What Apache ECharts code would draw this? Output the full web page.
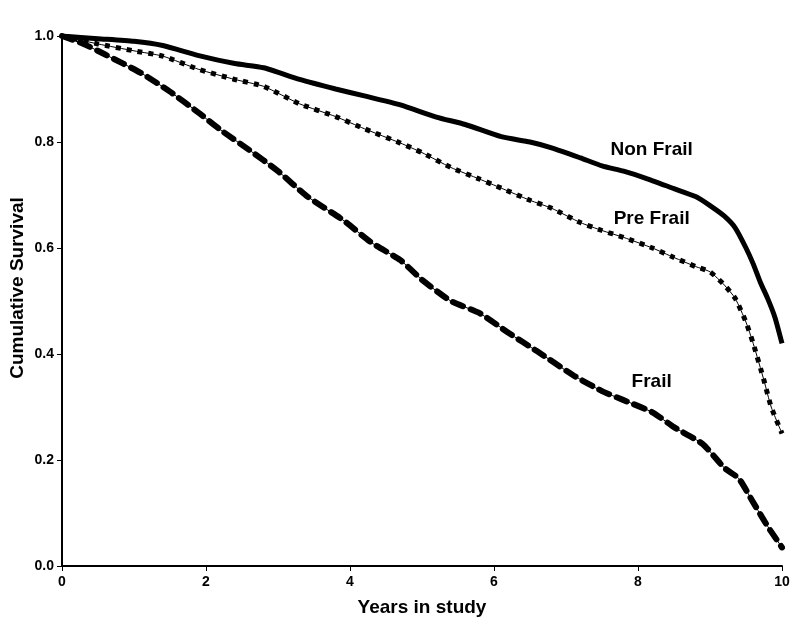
<!DOCTYPE html>
<html>
<head>
<meta charset="utf-8">
<script src="https://cdn.jsdelivr.net/npm/echarts@6/dist/echarts.min.js"></script>
<style>
html,body{margin:0;padding:0;background:#fff;}
#c{width:800px;height:630px;}
</style>
</head>
<body>
<div id="c"></div>
<script>
var nonFrailX = [0, 0.5, 1.0, 1.4, 1.9, 2.4, 2.8, 3.3, 3.8, 4.2, 4.7, 5.2, 5.6, 6.1, 6.5, 6.8, 7.2, 7.5, 7.8, 8.1, 8.5, 8.8, 9.0, 9.2, 9.35, 9.5, 9.6, 9.7, 9.8, 9.9, 10.0];
var nonFrailY = [1.0, 0.995, 0.99, 0.982, 0.963, 0.948, 0.94, 0.918, 0.90, 0.887, 0.870, 0.847, 0.833, 0.81, 0.80, 0.789, 0.77, 0.755, 0.745, 0.732, 0.712, 0.697, 0.68, 0.66, 0.638, 0.60, 0.57, 0.535, 0.505, 0.47, 0.42];

var preFrailX = [0, 0.5, 1.0, 1.4, 1.9, 2.4, 2.8, 3.3, 3.8, 4.2, 4.7, 5.0, 5.4, 5.8, 6.1, 6.5, 6.8, 7.2, 7.5, 7.8, 8.2, 8.5, 8.8, 9.0, 9.2, 9.35, 9.5, 9.6, 9.75, 9.85, 10.0];
var preFrailY = [1.0, 0.985, 0.972, 0.962, 0.937, 0.918, 0.905, 0.872, 0.848, 0.825, 0.798, 0.78, 0.752, 0.73, 0.713, 0.69, 0.675, 0.648, 0.633, 0.62, 0.60, 0.582, 0.565, 0.555, 0.53, 0.505, 0.46, 0.42, 0.35, 0.30, 0.25];

var frailX = [0, 0.3, 0.6, 1.1, 1.5, 1.9, 2.2, 2.6, 3.0, 3.4, 3.9, 4.3, 4.7, 5.0, 5.4, 5.8, 6.2, 6.6, 7.1, 7.5, 7.8, 8.2, 8.5, 8.9, 9.2, 9.4, 9.6, 9.8, 10.0];
var frailY = [1.0, 0.985, 0.965, 0.93, 0.895, 0.855, 0.823, 0.785, 0.745, 0.698, 0.653, 0.61, 0.577, 0.54, 0.50, 0.477, 0.44, 0.405, 0.36, 0.33, 0.313, 0.29, 0.262, 0.23, 0.185, 0.165, 0.12, 0.075, 0.035];

var curveLabels = ["Non Frail", "Pre Frail", "Frail"];
var labelX = [8.19, 8.19, 8.19];
var labelY = [0.785, 0.655, 0.347];

var xTicks = [0, 2, 4, 6, 8, 10];
var yTicks = [0.0, 0.2, 0.4, 0.6, 0.8, 1.0];

function pairs(xs, ys){ return xs.map(function(x,i){ return [x, ys[i]]; }); }

var FONT = '"Liberation Sans", Arial, sans-serif';
var chart = echarts.init(document.getElementById('c'), null, {renderer:'canvas'});

var labelData = curveLabels.map(function(t,i){ return {value:[labelX[i], labelY[i]], name:t}; });

chart.setOption({
  backgroundColor: '#ffffff',
  animation: false,
  grid: {left: 62, right: 18, top: 36, bottom: 64, containLabel: false},
  xAxis: {
    type: 'value', min: xTicks[0], max: xTicks[xTicks.length-1], interval: 2,
    name: 'Years in study', nameLocation: 'middle', nameGap: 32,
    nameTextStyle: {fontFamily: FONT, fontWeight: 'bold', fontSize: 19, color: '#000'},
    axisLine: {show: true, lineStyle: {color: '#000', width: 2}},
    axisTick: {show: true, length: 5, lineStyle: {color: '#000', width: 1}},
    axisLabel: {fontFamily: FONT, fontWeight: 'bold', fontSize: 14, color: '#000', margin: 9},
    splitLine: {show: false}
  },
  yAxis: {
    type: 'value', min: yTicks[0], max: yTicks[yTicks.length-1], interval: 0.2,
    axisLine: {show: true, lineStyle: {color: '#000', width: 2}},
    axisTick: {show: true, length: 5, lineStyle: {color: '#000', width: 1}},
    axisLabel: {fontFamily: FONT, fontWeight: 'bold', fontSize: 14, color: '#000', margin: 8,
      formatter: function(v){ return v.toFixed(1); }},
    splitLine: {show: false}
  },
  graphic: [{
    type: 'text', x: 18, y: 288, rotation: Math.PI / 2,
    style: {text: 'Cumulative Survival', fontFamily: FONT, fontWeight: 'bold', fontSize: 19,
      fill: '#000', align: 'center', verticalAlign: 'middle'}
  }],
  series: [
    {name: 'Non Frail', type: 'line', data: pairs(nonFrailX, nonFrailY), showSymbol: false, smooth: 0.2,
     lineStyle: {color: '#000', width: 5}},
    {name: 'Pre Frail', type: 'line', data: pairs(preFrailX, preFrailY), showSymbol: false, smooth: 0.2,
     lineStyle: {color: '#000', width: 1}},
    {name: 'Pre Frail dots', type: 'line', data: pairs(preFrailX, preFrailY), showSymbol: false, smooth: 0.2,
     lineStyle: {color: '#000', width: 5, type: [5, 6], cap: 'butt'}},
    {name: 'Frail', type: 'line', data: pairs(frailX, frailY), showSymbol: false, smooth: 0.2,
     lineStyle: {color: '#000', width: 1}},
    {name: 'Frail dashes', type: 'line', data: pairs(frailX, frailY), showSymbol: false, smooth: 0.2,
     lineStyle: {color: '#000', width: 6, type: [11, 8], cap: 'round'}},
    {name: 'labels', type: 'scatter', data: labelData, symbolSize: 0, silent: true,
     itemStyle: {opacity: 1},
     label: {show: true, position: 'inside', opacity: 1, formatter: function(p){ return p.name; },
       fontFamily: FONT, fontWeight: 'bold', fontSize: 19, color: '#000'}}
  ]
});
</script>
</body>
</html>
